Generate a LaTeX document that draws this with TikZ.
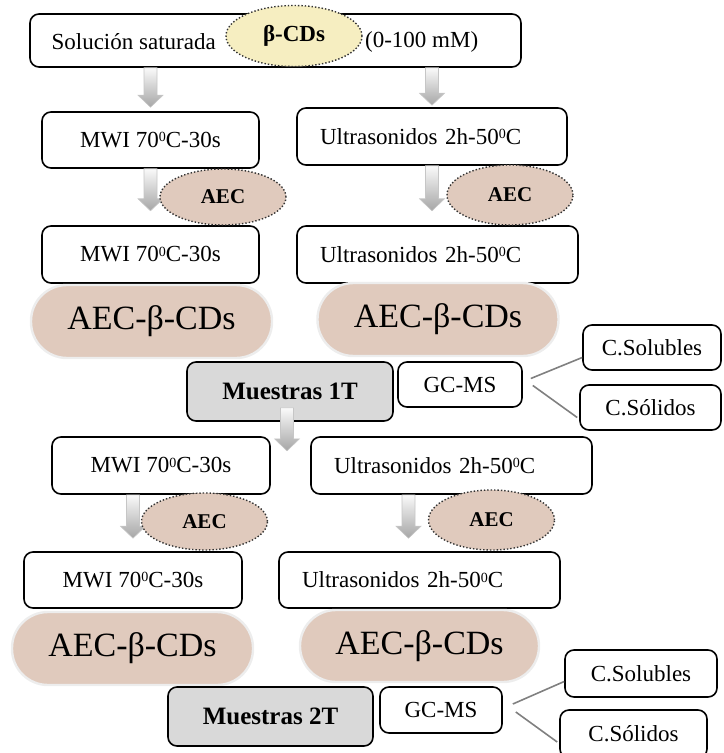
\documentclass[tikz,border=0pt]{standalone}
\usepackage{fontspec}
\setmainfont{Liberation Serif}
\usetikzlibrary{shapes.geometric,calc,positioning}

\definecolor{aecfill}{HTML}{E0CABD}
\definecolor{cdfill}{HTML}{F6EEC1}
\definecolor{muestra}{HTML}{D9D9D9}

\newcommand{\gradoC}{\raisebox{0.55ex}{\fontsize{7}{8}\selectfont 0}C}

% gray block arrow, from #1 down to the tip at #2
\newcommand{\flecha}[2]{%
  \coordinate (fa) at (#1);
  \coordinate (fb) at (#2);
  \shade[top color=gray!4, bottom color=gray!70, draw=gray!45, line width=0.3pt]
    ($(fa)+(-6.5,0)$) -- ($(fb)+(-6.5,-12)$) -- ($(fb)+(-12.5,-12)$) -- (fb)
    -- ($(fb)+(12.5,-12)$) -- ($(fb)+(6.5,-12)$) -- ($(fa)+(6.5,0)$) -- cycle;}

\tikzset{
  box/.style={draw, rounded corners=4.5pt, line width=0.8pt, fill=white, inner sep=0pt,
    font=\fontsize{11.5}{13}\selectfont},
  usbox/.style={box, align=left, inner xsep=11.5pt, text width=#1},
  aec/.style={ellipse, draw=black!80, densely dotted, line width=0.7pt, fill=aecfill,
    minimum width=63pt, inner sep=0pt, font=\bfseries\fontsize{10.5}{12}\selectfont},
  blob/.style={fill=aecfill, draw=black!7, line width=1.2pt, rounded corners=18pt,
    minimum width=120.5pt, minimum height=36.5pt, inner sep=0pt,
    font=\fontsize{17}{20}\selectfont},
  muestra/.style={box, fill=muestra, minimum width=103pt, minimum height=29.5pt,
    font=\bfseries\fontsize{12.5}{15}\selectfont},
  gc/.style={box, minimum width=62pt, minimum height=22.5pt},
  link/.style={draw=gray, line width=0.8pt},
  txt/.style={inner sep=0pt, font=\fontsize{11.5}{13}\selectfont}
}

\begin{document}
\begin{tikzpicture}[x=0.5pt, y=-0.5pt]
\useasboundingbox (0,0) rectangle (723,753);

% solucion de partida
\node[box, minimum width=245.5pt, minimum height=26.5pt] (sol) at (275.5,40.5) {};
\node[txt, anchor=west] (soltxt) at ($(sol.west)+(22,1.5)$) {Solución saturada};
\node[ellipse, draw=black!80, densely dotted, line width=0.7pt, fill=cdfill,
  minimum width=68pt, minimum height=30.5pt, inner sep=0pt,
  font=\bfseries\fontsize{11.5}{13}\selectfont] (cd) at (294,36) {β-CDs};
\node[txt, right=1pt of cd, yshift=-3pt] (conc) {(0-100 mM)};

% primer tratamiento
\node[box, minimum width=108.5pt, minimum height=28pt] (mwiA) at (150.5,140) {MWI 70\gradoC-30s};
\node[usbox=112pt, minimum height=28.5pt] (usA) at (432,136.5) {Ultrasonidos 2h-50\gradoC};
\node[box, minimum width=108.5pt, minimum height=28.5pt] (mwiB) at (150.5,254.5) {MWI 70\gradoC-30s};
\node[usbox=117.5pt, minimum height=28.5pt] (usB) at (437.5,254.5) {Ultrasonidos 2h-50\gradoC};
\node[blob] (cdA) at (151.5,321.5) {AEC-β-CDs};
\node[blob] (cdB) at (438,319.5) {AEC-β-CDs};
\node[muestra] (m1T) at (290,391.5) {Muestras 1T};
\node[gc] (gcA) at (460,384.5) {GC-MS};
\node[box, minimum width=69pt, minimum height=22.5pt] (solA) at (652,347.5) {C.Solubles};
\node[box, minimum width=70.5pt, minimum height=22.5pt] (sldA) at (650.5,407.5) {C.Sólidos};

% segundo tratamiento
\node[box, minimum width=109pt, minimum height=28.5pt] (mwiC) at (161,465.5) {MWI 70\gradoC-30s};
\node[usbox=117.5pt, minimum height=28.5pt] (usC) at (451.5,465.5) {Ultrasonidos 2h-50\gradoC};
\node[box, minimum width=109pt, minimum height=28pt] (mwiD) at (133,580) {MWI 70\gradoC-30s};
\node[usbox=117.5pt, minimum height=28pt] (usD) at (419.5,580) {Ultrasonidos 2h-50\gradoC};
\node[blob] (cdC) at (132.5,648.5) {AEC-β-CDs};
\node[blob, minimum width=119.5pt, minimum height=36pt] (cdD) at (419.5,646) {AEC-β-CDs};
\node[muestra, minimum width=102.5pt] (m2T) at (270.5,716.5) {Muestras 2T};
\node[gc, minimum width=61pt, minimum height=23pt] (gcB) at (441,710) {GC-MS};
\node[box, minimum width=76pt, minimum height=23.5pt] (solB) at (641,673.5) {C.Solubles};
\node[box, minimum width=73.5pt, minimum height=24pt] (sldB) at (633.5,734) {C.Sólidos};

% flechas
\flecha{sol.south -| mwiA.north}{$(mwiA.north)+(0,-4)$}
\flecha{sol.south -| usA.north}{$(usA.north)+(0,-2)$}
\flecha{mwiA.south}{$(mwiA.south)+(0,42)$}
\flecha{usA.south}{$(usA.south)+(0,45)$}
\flecha{$(m1T.south)+(-3,-14)$}{$(m1T.south)+(-3,29)$}
\flecha{mwiD.north |- mwiC.south}{$(mwiD.north)+(0,-13)$}
\flecha{$(usD.north |- usC.south)+(-11,0)$}{$(usD.north)+(-11,-13)$}

% agente AEC
\node[aec, minimum height=28pt] (aecA) at (223,197) {AEC};
\node[aec, minimum height=30pt] (aecB) at (510,195) {AEC};
\node[aec, minimum height=28.5pt] (aecC) at (204.5,521.5) {AEC};
\node[aec, minimum height=30pt] (aecD) at (491.5,520) {AEC};

% GC-MS
\draw[link] ($(gcA.east)+(8,-6)$) -- ($(solA.west)+(0,10)$);
\draw[link] ($(gcA.east)+(10,1)$) -- ($(sldA.west)+(-2,10)$);
\draw[link] ($(gcB.east)+(10,-6)$) -- ($(solB.west)+(0,8)$);
\draw[link] ($(gcB.east)+(13,2)$) -- ($(sldB.west)+(-2,8)$);
\end{tikzpicture}
\end{document}
